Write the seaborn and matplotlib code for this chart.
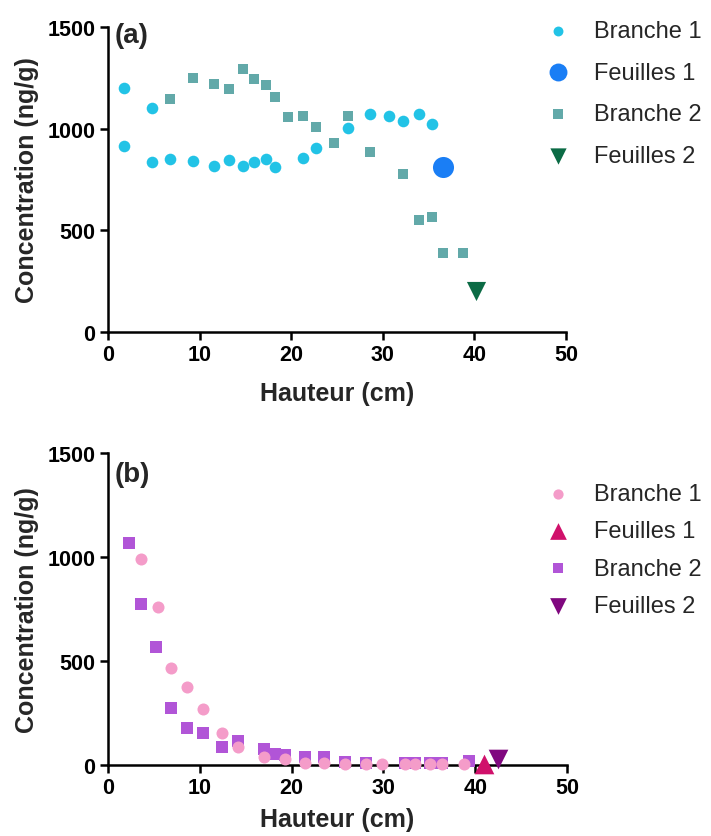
import pandas as pd
import matplotlib.pyplot as plt
import seaborn as sns

# Panneau (a)
a_b1_x = [1.75, 1.75, 4.77, 4.77, 6.77, 9.24, 11.57, 13.25, 14.7, 15.94, 17.2, 18.27,
          21.25, 22.7, 26.2, 28.6, 30.7, 32.2, 33.9, 35.4]
a_b1_y = [1200, 916, 1102, 838, 849, 840, 815, 848, 818, 836, 849, 810,
          858, 903, 1005, 1072, 1064, 1040, 1072, 1023]
a_f1_x = [36.6]
a_f1_y = [810]
a_b2_x = [6.77, 9.24, 11.57, 13.25, 14.7, 15.94, 17.2, 18.27, 19.7, 21.25, 22.7, 24.7,
          26.2, 28.6, 32.2, 33.9, 35.4, 36.6, 38.8]
a_b2_y = [1146, 1248, 1218, 1195, 1294, 1244, 1215, 1154, 1056, 1064, 1007, 930,
          1061, 884, 777, 552, 564, 389, 389]
a_f2_x = [40.2]
a_f2_y = [200]

# Panneau (b)
b_b1_x = [3.57, 5.45, 6.84, 8.65, 10.4, 12.37, 14.2, 17.0, 19.3, 21.45, 23.5, 25.8,
          28.1, 29.8, 32.3, 33.4, 35.1, 36.4, 38.8]
b_b1_y = [990, 760, 467, 373, 268, 153, 88, 40, 30, 12, 12, 7,
          7, 5, 5, 5, 5, 5, 7]
b_f1_x = [41.0]
b_f1_y = [3]
b_b2_x = [2.3, 3.57, 5.28, 6.84, 8.65, 10.36, 12.37, 14.2, 17.0, 18.2, 19.3, 21.45,
          23.5, 25.8, 28.1, 32.3, 33.4, 35.1, 36.4, 39.3]
b_b2_y = [1065, 776, 569, 275, 178, 153, 88, 115, 75, 55, 50, 40,
          40, 15, 12, 8, 8, 8, 8, 20]
b_f2_x = [42.5]
b_f2_y = [28]

labels = ["Branche 1", "Feuilles 1", "Branche 2", "Feuilles 2"]

sns.set_style("ticks")
plt.rcParams['font.family'] = ['Liberation Sans', 'DejaVu Sans']

fig = plt.figure(figsize=(7.11, 8.37), dpi=100)
ax_a = fig.add_axes([108 / 711, 1 - 333 / 837, 458 / 711, 305 / 837])
ax_b = fig.add_axes([108 / 711, 1 - 766 / 837, 459 / 711, 312 / 837])


def panel(ax, series, letter, letter_y, leg_top, spacing, xpad):
    # series : liste de (x, y, couleur, marqueur, taille, zorder)
    for lab, (x, y, col, mk, s, z) in zip(labels, series):
        sns.scatterplot(x=x, y=y, ax=ax, color=col, marker=mk, s=s,
                        linewidth=0, label=lab, zorder=z)
    ax.set_xlim(0, 50)
    ax.set_ylim(0, 1500)
    ax.set_xticks([0, 10, 20, 30, 40, 50])
    ax.set_yticks([0, 500, 1000, 1500])
    for sp in ["top", "right"]:
        ax.spines[sp].set_visible(False)
    for sp in ["left", "bottom"]:
        ax.spines[sp].set_linewidth(1.8)
        ax.spines[sp].set_color("black")
    ax.tick_params(width=1.8, length=6, pad=3, labelsize=15.5, colors="black")
    for t in ax.get_xticklabels() + ax.get_yticklabels():
        t.set_fontweight("bold")
    ax.set_xlabel("Hauteur (cm)", fontsize=18, fontweight="bold", labelpad=xpad)
    ax.set_ylabel("Concentration (ng/g)", fontsize=18, fontweight="bold", labelpad=6)
    ax.text(0.015, letter_y, letter, transform=ax.transAxes, fontsize=20,
            fontweight="bold", va="center", ha="left")
    ax.legend(loc="upper left", bbox_to_anchor=(546 / 711, leg_top),
              bbox_transform=fig.transFigure, frameon=False, fontsize=17,
              borderpad=0, borderaxespad=0, handlelength=1.0,
              handletextpad=1.05, labelspacing=spacing, markerscale=0.85)


panel(ax_a, [
    (a_b1_x, a_b1_y, "#22C3E6", "o", 70, 4),
    (a_f1_x, a_f1_y, "#1A7EF5", "o", 230, 5),
    (a_b2_x, a_b2_y, "#62A9A9", "s", 60, 3),
    (a_f2_x, a_f2_y, "#0B6B45", "v", 190, 5),
], "(a)", 0.974, 1 - 21 / 837, 0.83, 11)

panel(ax_b, [
    (b_b1_x, b_b1_y, "#F49CC9", "o", 75, 4),
    (b_f1_x, b_f1_y, "#D0116B", "^", 200, 5),
    (b_b2_x, b_b2_y, "#B155D7", "s", 70, 3),
    (b_f2_x, b_f2_y, "#80087F", "v", 200, 5),
], "(b)", 0.933, 1 - 484 / 837, 0.65, 6)

for ax in (ax_a, ax_b):
    for c in ax.collections:
        c.set_clip_on(False)

fig.savefig("out.png", dpi=100)
